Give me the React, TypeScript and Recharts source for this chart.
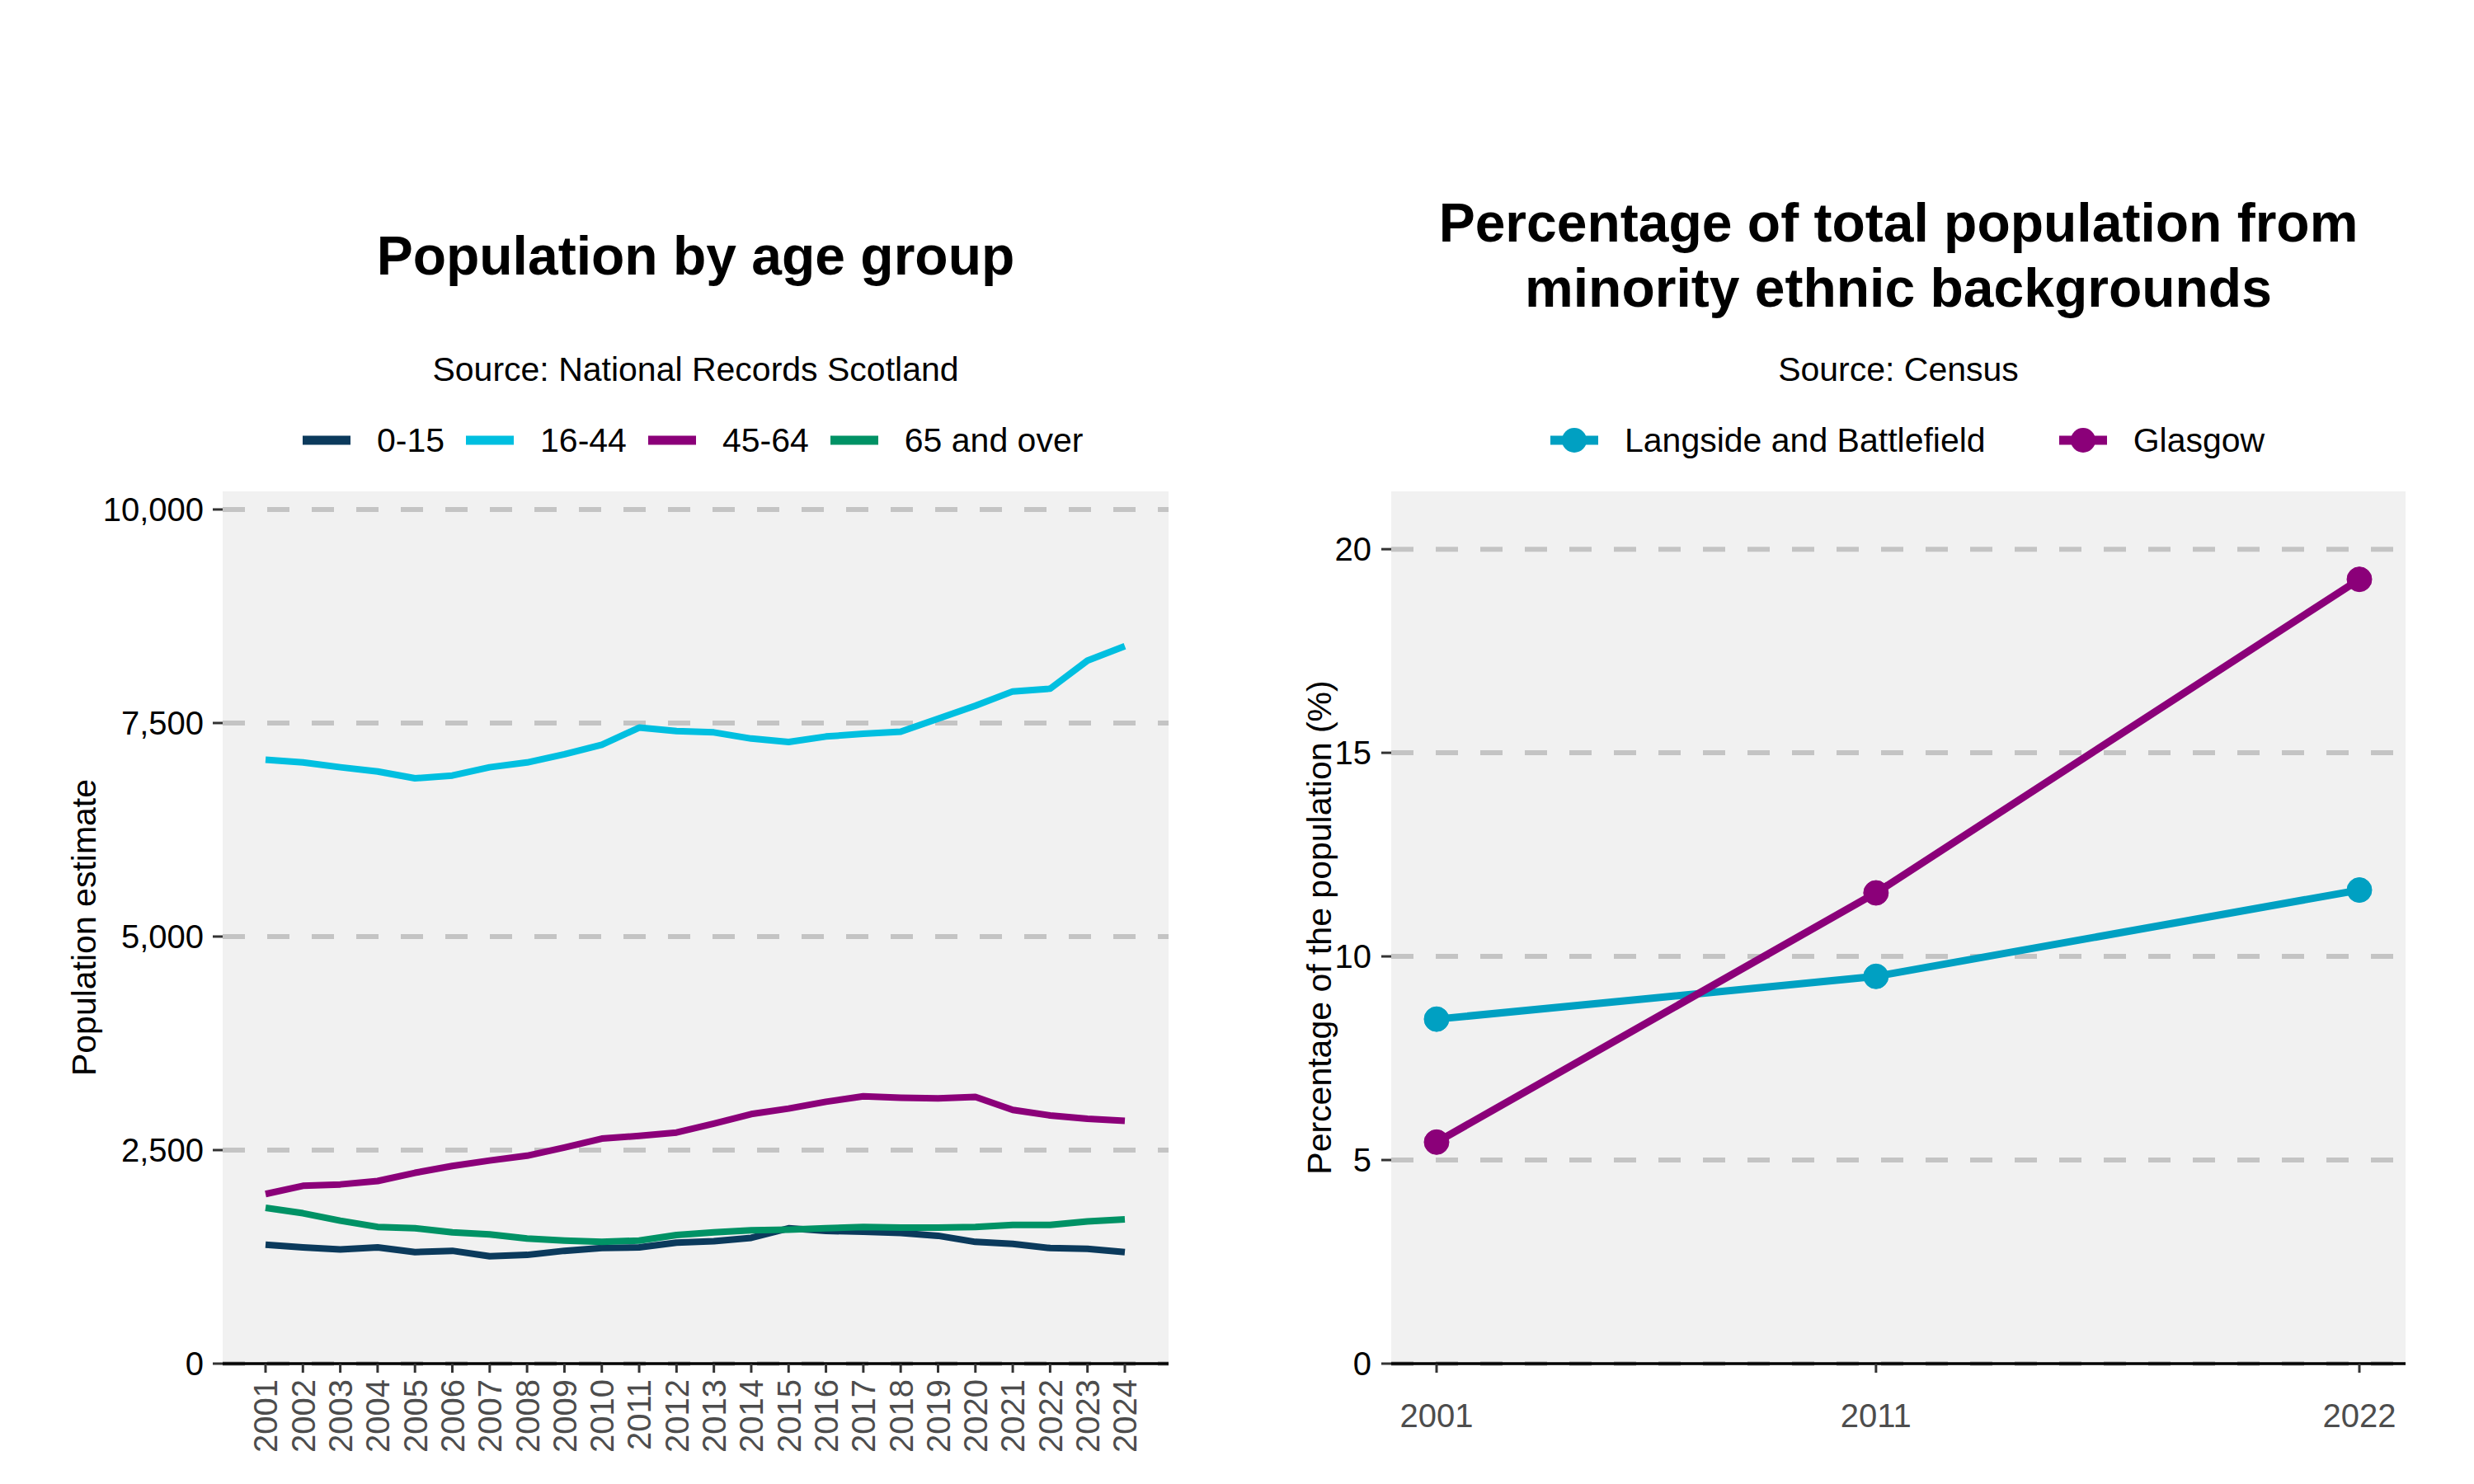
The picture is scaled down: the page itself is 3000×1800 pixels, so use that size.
import React from 'react';
import { LineChart, Line, XAxis, YAxis, CartesianGrid } from 'recharts';

const FONT = '"Liberation Sans", Arial, Helvetica, sans-serif';

// Population by age group (National Records Scotland)
const years = [
  2001, 2002, 2003, 2004, 2005, 2006, 2007, 2008, 2009, 2010, 2011, 2012,
  2013, 2014, 2015, 2016, 2017, 2018, 2019, 2020, 2021, 2022, 2023, 2024,
];
const age0to15 = [
  1393, 1361, 1337, 1361, 1305, 1321, 1257, 1273, 1321, 1353, 1361, 1417,
  1433, 1473, 1585, 1553, 1545, 1529, 1497, 1425, 1401, 1353, 1345, 1305,
];
const age16to44 = [
  7070, 7038, 6982, 6933, 6853, 6885, 6982, 7038, 7134, 7246, 7446, 7406,
  7390, 7318, 7278, 7342, 7374, 7398, 7550, 7702, 7870, 7902, 8231, 8399,
];
const age45to64 = [
  1986, 2082, 2098, 2138, 2234, 2314, 2378, 2434, 2530, 2634, 2666, 2706,
  2810, 2922, 2986, 3066, 3130, 3114, 3106, 3122, 2970, 2906, 2866, 2842,
];
const age65plus = [
  1825, 1761, 1673, 1601, 1585, 1537, 1513, 1465, 1441, 1425, 1441, 1505,
  1537, 1561, 1569, 1585, 1601, 1593, 1593, 1601, 1625, 1625, 1665, 1689,
];
const ageTicks = [0, 2500, 5000, 7500, 10000];

// Minority ethnic backgrounds (Census)
const censusYears = [2001, 2011, 2022];
const langside = [8.46, 9.51, 11.63];
const glasgow = [5.44, 11.56, 19.26];
const pctTicks = [0, 5, 10, 15, 20];

const ageSeries = [
  { key: 'a0', name: '0-15', values: age0to15, color: '#0b3a5c' },
  { key: 'a16', name: '16-44', values: age16to44, color: '#00bfe0' },
  { key: 'a45', name: '45-64', values: age45to64, color: '#8b0079' },
  { key: 'a65', name: '65 and over', values: age65plus, color: '#009265' },
];

const censusSeries = [
  { key: 'lb', name: 'Langside and Battlefield', values: langside, color: '#00a0c2' },
  { key: 'gl', name: 'Glasgow', values: glasgow, color: '#8b0079' },
];

const ageData = years.map((year, i) => {
  const row: Record<string, number> = { year };
  ageSeries.forEach((s) => (row[s.key] = s.values[i]));
  return row;
});

const censusData = censusYears.map((year, i) => {
  const row: Record<string, number> = { year };
  censusSeries.forEach((s) => (row[s.key] = s.values[i]));
  return row;
});

const RotatedTick = (props: any) => {
  const { x, y, payload } = props;
  return (
    <text
      x={x}
      y={y}
      dy="0.36em"
      transform={`rotate(-90, ${x}, ${y})`}
      textAnchor="end"
      fontSize={40}
      fill="#4d4d4d"
      fontFamily={FONT}
    >
      {payload.value}
    </text>
  );
};

function LegendRow({ left, items, gap, dots }: { left: number; items: { name: string; color: string }[]; gap: number; dots?: boolean }) {
  return (
    <div
      style={{
        position: 'absolute',
        left,
        top: 504,
        height: 60,
        display: 'flex',
        alignItems: 'center',
        fontSize: 41,
        lineHeight: 1,
        whiteSpace: 'nowrap',
        color: '#000',
      }}
    >
      {items.map((it) => (
        <div key={it.name} style={{ display: 'flex', alignItems: 'center', marginRight: gap }}>
          <svg width={58} height={40} style={{ display: 'block' }}>
            <line x1={0} x2={58} y1={20} y2={20} stroke={it.color} strokeWidth={11} />
            {dots && <circle cx={29} cy={20} r={15} fill={it.color} />}
          </svg>
          <span style={{ marginLeft: 32 }}>{it.name}</span>
        </div>
      ))}
    </div>
  );
}

const axisTick = { fontSize: 40, fill: '#000', fontFamily: FONT };
const xTick = { fontSize: 40, fill: '#4d4d4d', fontFamily: FONT };
const tickLine = { stroke: '#333333', strokeWidth: 3 };
const axisTitle = { textAnchor: 'middle', fontSize: 41, fill: '#000', fontFamily: FONT };

export default function App() {
  return (
    <div
      style={{
        position: 'absolute',
        left: 0,
        top: 0,
        width: 3000,
        height: 1800,
        background: '#fff',
        fontFamily: FONT,
      }}
    >
      <div style={{ position: 'absolute', left: 0, top: 0 }}>
        <LineChart width={1500} height={1800} data={ageData} margin={{ top: 596, right: 83, bottom: 26, left: 70 }}>
          <CartesianGrid
            vertical={false}
            horizontalValues={ageTicks}
            fill="#f1f1f1"
            fillOpacity={1}
            stroke="#c4c4c4"
            strokeWidth={6}
            strokeDasharray="27 27"
          />
          <XAxis
            dataKey="year"
            type="number"
            domain={[2001, 2024]}
            ticks={years}
            interval={0}
            padding={{ left: 52, right: 53 }}
            height={120}
            tick={<RotatedTick />}
            tickSize={11}
            tickMargin={8}
            tickLine={tickLine}
            axisLine={{ stroke: '#000', strokeWidth: 3.5 }}
          />
          <YAxis
            type="number"
            domain={[0, 10212]}
            ticks={ageTicks}
            interval={0}
            width={200}
            tick={axisTick}
            tickSize={12}
            tickMargin={11}
            tickLine={tickLine}
            axisLine={false}
            tickFormatter={(v: number) => v.toLocaleString('en-US')}
            label={{
              value: 'Population estimate',
              angle: -90,
              position: 'insideLeft',
              offset: 31,
              style: axisTitle,
            }}
          />
          {ageSeries.map((s) => (
            <Line
              key={s.key}
              type="linear"
              dataKey={s.key}
              name={s.name}
              stroke={s.color}
              strokeWidth={8}
              strokeLinejoin="round"
              dot={false}
              activeDot={false}
              isAnimationActive={false}
            />
          ))}
        </LineChart>
      </div>

      <div style={{ position: 'absolute', left: 1500, top: 0 }}>
        <LineChart width={1500} height={1800} data={censusData} margin={{ top: 596, right: 83, bottom: 26, left: 37 }}>
          <CartesianGrid
            vertical={false}
            horizontalValues={pctTicks}
            fill="#f1f1f1"
            fillOpacity={1}
            stroke="#c4c4c4"
            strokeWidth={6}
            strokeDasharray="27 27"
          />
          <XAxis
            dataKey="year"
            type="number"
            domain={[2001, 2022]}
            ticks={censusYears}
            interval={0}
            padding={{ left: 55, right: 56 }}
            height={120}
            tick={xTick}
            tickSize={11}
            tickMargin={38}
            tickLine={tickLine}
            axisLine={{ stroke: '#000', strokeWidth: 3.5 }}
          />
          <YAxis
            type="number"
            domain={[0, 21.42]}
            ticks={pctTicks}
            interval={0}
            width={150}
            tick={axisTick}
            tickSize={12}
            tickMargin={12}
            tickLine={tickLine}
            axisLine={false}
            label={{
              value: 'Percentage of the population (%)',
              angle: -90,
              position: 'insideLeft',
              offset: 62,
              style: axisTitle,
            }}
          />
          {censusSeries.map((s) => (
            <Line
              key={s.key}
              type="linear"
              dataKey={s.key}
              name={s.name}
              stroke={s.color}
              strokeWidth={9}
              dot={{ r: 15, fill: s.color, stroke: s.color, strokeWidth: 1 }}
              activeDot={false}
              isAnimationActive={false}
            />
          ))}
        </LineChart>
      </div>

      <svg width={3000} height={1800} style={{ position: 'absolute', left: 0, top: 0, pointerEvents: 'none' }}>
        <g fontFamily={FONT} textAnchor="middle" fill="#000">
          <text x={843.5} y={333} fontSize={66} fontWeight="bold">Population by age group</text>
          <text x={843.5} y={462} fontSize={41}>Source: National Records Scotland</text>
          <text x={2302} y={293} fontSize={66} fontWeight="bold">Percentage of total population from</text>
          <text x={2302} y={372} fontSize={66} fontWeight="bold">minority ethnic backgrounds</text>
          <text x={2302} y={462} fontSize={41}>Source: Census</text>
        </g>
      </svg>

      <LegendRow left={367} items={ageSeries} gap={26} />
      <LegendRow left={1880} items={censusSeries} gap={89} dots />
    </div>
  );
}
